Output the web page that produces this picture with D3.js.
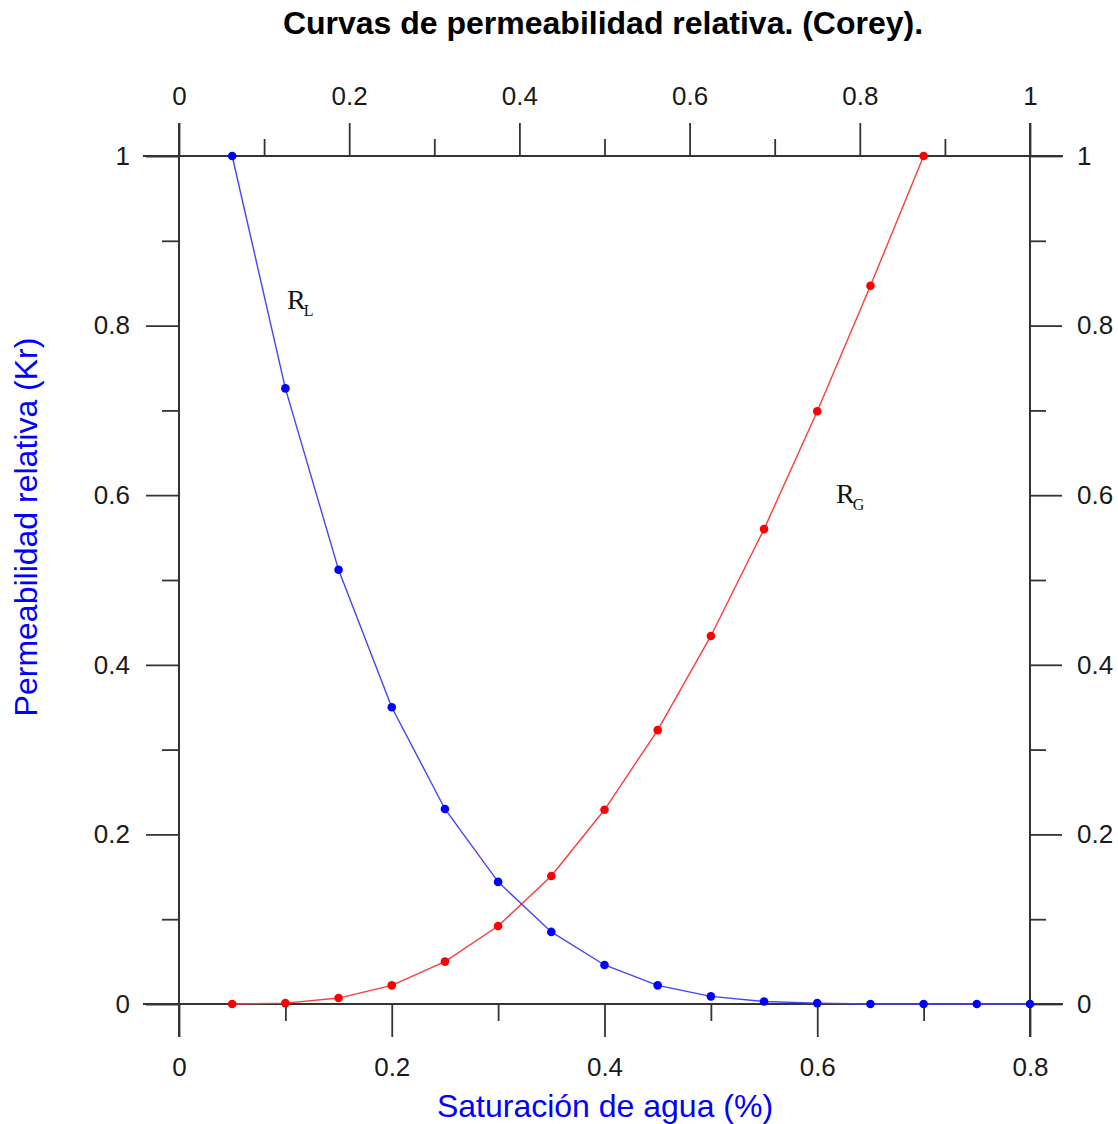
<!DOCTYPE html>
<html>
<head>
<meta charset="utf-8">
<script src="https://cdn.jsdelivr.net/npm/d3@7"></script>
<style>
  body { margin: 0; background: #fff; }
  text { font-family: "Liberation Sans", Arial, sans-serif; }
</style>
</head>
<body>
<div id="chart"></div>
<script>
// data
var saturation = [0.05, 0.10, 0.15, 0.20, 0.25, 0.30, 0.35, 0.40, 0.45, 0.50, 0.55, 0.60, 0.65, 0.70, 0.75, 0.80];
var krLiquid = [1.0, 0.726, 0.512, 0.350, 0.230, 0.144, 0.085, 0.046, 0.022, 0.009, 0.003, 0.001, 0.0, 0.0, 0.0, 0.0];
var krGas = [0.0, 0.001, 0.007, 0.022, 0.050, 0.092, 0.151, 0.229, 0.323, 0.434, 0.560, 0.699, 0.847, 1.0];

var bottomTicks = [0, 0.2, 0.4, 0.6, 0.8];
var bottomMinor = [0.1, 0.3, 0.5, 0.7];
var topTicks = [0, 0.2, 0.4, 0.6, 0.8, 1];
var topMinor = [0.1, 0.3, 0.5, 0.7, 0.9];
var yTicks = [0, 0.2, 0.4, 0.6, 0.8, 1];
var yMinor = [0.1, 0.3, 0.5, 0.7, 0.9];

var svgWidth = 1118;
var svgHeight = 1124;

var margin = { top: 156, right: 88, bottom: 120, left: 179 };
var width = svgWidth - margin.left - margin.right;
var height = svgHeight - margin.top - margin.bottom;

var svg = d3.select("#chart")
    .append("svg")
    .attr("width", svgWidth)
    .attr("height", svgHeight);

var chartGroup = svg.append("g")
    .attr("transform", `translate(${margin.left}, ${margin.top})`);

var xScale = d3.scaleLinear().domain([0, 0.8]).range([0, width]);
var xTopScale = d3.scaleLinear().domain([0, 1]).range([0, width]);
var yScale = d3.scaleLinear().domain([0, 1]).range([height, 0]);

var axisColor = "#333";
var tickFont = "26px";

// helper to style an axis group
function styleAxis(g) {
    g.select(".domain").remove();
    g.selectAll("line").attr("stroke", axisColor).attr("stroke-width", 1.8);
    g.selectAll("text")
        .attr("fill", "#1a1a1a")
        .style("font-size", tickFont)
        .style("font-family", "'Liberation Sans', Arial, sans-serif");
}

// frame lines that stick out past the corners
chartGroup.append("line")
    .attr("x1", -36).attr("x2", width + 33)
    .attr("y1", 0).attr("y2", 0)
    .attr("stroke", axisColor).attr("stroke-width", 2);
chartGroup.append("line")
    .attr("x1", -36).attr("x2", width + 33)
    .attr("y1", height).attr("y2", height)
    .attr("stroke", axisColor).attr("stroke-width", 2);
chartGroup.append("line")
    .attr("x1", 0).attr("x2", 0)
    .attr("y1", -33).attr("y2", height + 33)
    .attr("stroke", axisColor).attr("stroke-width", 2);
chartGroup.append("line")
    .attr("x1", width).attr("x2", width)
    .attr("y1", -33).attr("y2", height + 33)
    .attr("stroke", axisColor).attr("stroke-width", 2);

// bottom axis
var bottomAxis = chartGroup.append("g")
    .attr("transform", `translate(0, ${height})`)
    .call(d3.axisBottom(xScale).tickValues(bottomTicks).tickSize(33).tickPadding(21)
        .tickFormat(d3.format("~g")));
styleAxis(bottomAxis);

chartGroup.append("g")
    .attr("transform", `translate(0, ${height})`)
    .call(d3.axisBottom(xScale).tickValues(bottomMinor).tickSize(17).tickFormat(""))
    .call(styleAxis);

// top axis
var topAxis = chartGroup.append("g")
    .call(d3.axisTop(xTopScale).tickValues(topTicks).tickSize(33).tickPadding(18)
        .tickFormat(d3.format("~g")));
styleAxis(topAxis);

chartGroup.append("g")
    .call(d3.axisTop(xTopScale).tickValues(topMinor).tickSize(17).tickFormat(""))
    .call(styleAxis);

// left axis
var leftAxis = chartGroup.append("g")
    .call(d3.axisLeft(yScale).tickValues(yTicks).tickSize(33).tickPadding(16)
        .tickFormat(d3.format("~g")));
styleAxis(leftAxis);

chartGroup.append("g")
    .call(d3.axisLeft(yScale).tickValues(yMinor).tickSize(17).tickFormat(""))
    .call(styleAxis);

// right axis
var rightAxis = chartGroup.append("g")
    .attr("transform", `translate(${width}, 0)`)
    .call(d3.axisRight(yScale).tickValues(yTicks).tickSize(32).tickPadding(15)
        .tickFormat(d3.format("~g")));
styleAxis(rightAxis);

chartGroup.append("g")
    .attr("transform", `translate(${width}, 0)`)
    .call(d3.axisRight(yScale).tickValues(yMinor).tickSize(16).tickFormat(""))
    .call(styleAxis);

// curves
var liquidData = saturation.map((s, i) => ({ x: s, y: krLiquid[i] }));
var gasData = krGas.map((v, i) => ({ x: saturation[i], y: v }));

var line = d3.line()
    .x(d => xScale(d.x))
    .y(d => yScale(d.y));

chartGroup.append("path")
    .datum(gasData)
    .attr("d", line)
    .attr("fill", "none")
    .attr("stroke", "#ff3b3b")
    .attr("stroke-width", 1.4);

chartGroup.append("path")
    .datum(liquidData)
    .attr("d", line)
    .attr("fill", "none")
    .attr("stroke", "#4444ff")
    .attr("stroke-width", 1.4);

chartGroup.selectAll(".gas-dot")
    .data(gasData)
    .enter()
    .append("circle")
    .attr("class", "gas-dot")
    .attr("cx", d => xScale(d.x))
    .attr("cy", d => yScale(d.y))
    .attr("r", 4.3)
    .attr("fill", "#ff0000");

chartGroup.selectAll(".liquid-dot")
    .data(liquidData)
    .enter()
    .append("circle")
    .attr("class", "liquid-dot")
    .attr("cx", d => xScale(d.x))
    .attr("cy", d => yScale(d.y))
    .attr("r", 4.3)
    .attr("fill", "#0000ff");

// curve labels R_L and R_G
function curveLabel(x, y, sub) {
    var t = svg.append("text")
        .attr("x", x)
        .attr("y", y)
        .attr("fill", "#111")
        .style("font-family", "'Liberation Serif', 'Times New Roman', serif")
        .style("font-size", "28px");
    t.append("tspan").text("R");
    t.append("tspan")
        .attr("dx", -2)
        .attr("dy", 7)
        .style("font-size", "16px")
        .text(sub);
}
curveLabel(287, 309, "L");
curveLabel(836, 503, "G");

// title
svg.append("text")
    .attr("x", 603)
    .attr("y", 34)
    .attr("text-anchor", "middle")
    .style("font-size", "32px")
    .style("font-weight", "bold")
    .attr("fill", "#000")
    .text("Curvas de permeabilidad relativa. (Corey).");

// axis titles
svg.append("text")
    .attr("x", 605)
    .attr("y", 1117)
    .attr("text-anchor", "middle")
    .style("font-size", "32px")
    .attr("fill", "#0000ff")
    .text("Saturación de agua (%)");

svg.append("text")
    .attr("transform", "translate(37, 527) rotate(-90)")
    .attr("text-anchor", "middle")
    .style("font-size", "32px")
    .attr("fill", "#0000ff")
    .text("Permeabilidad relativa (Kr)");
</script>
</body>
</html>
